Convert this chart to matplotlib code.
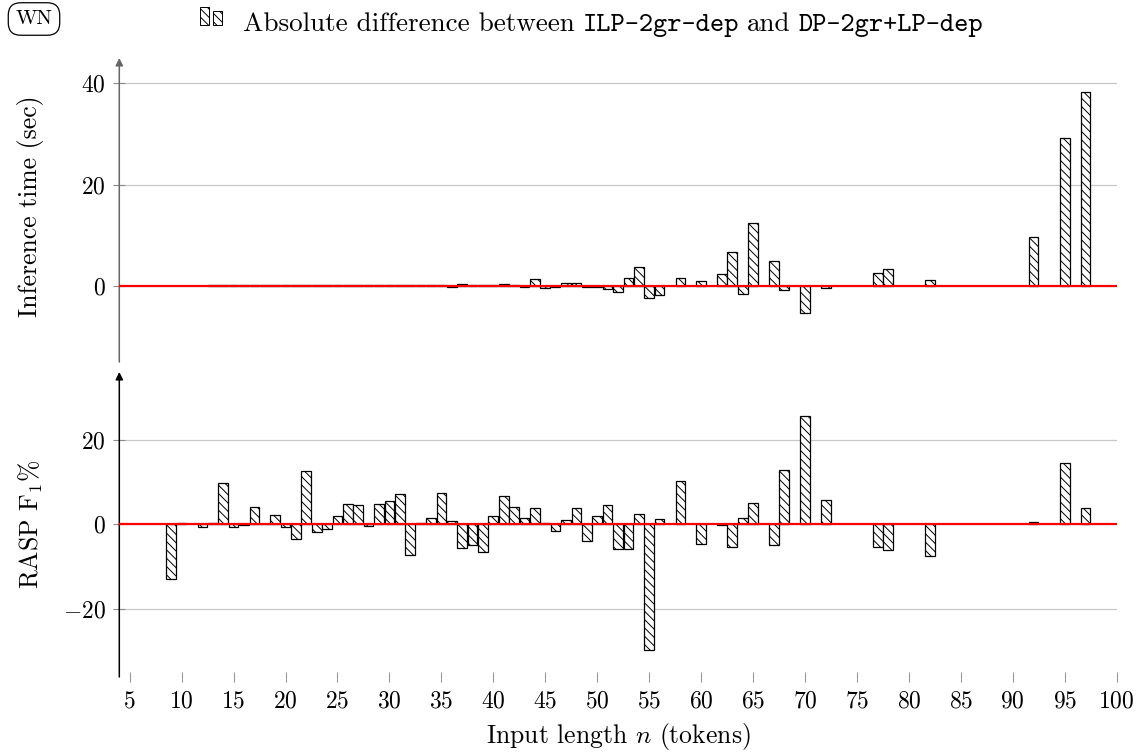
import matplotlib
matplotlib.use('Agg')
import matplotlib.pyplot as plt
from matplotlib.patches import Rectangle

plt.rcParams['font.family'] = ['cmr10', 'DejaVu Serif']
plt.rcParams['mathtext.fontset'] = 'cm'
plt.rcParams['axes.formatter.use_mathtext'] = True
plt.rcParams['hatch.linewidth'] = 0.7

# inference time difference (sec) per input length
time_len = list(range(13, 57)) + [58, 60, 62, 63, 64, 65, 67, 68, 70, 72, 77, 78, 82, 92, 95, 97]
time_diff = [0.1] * 23 + [
    -0.2, 0.3, 0.1, 0.1, 0.1, 0.3, 0.1, -0.2, 1.3, -0.4, -0.2, 0.5, 0.5, -0.1, -0.2,
    -0.6, -1.1, 1.5, 3.7, -2.4, -1.8,
    1.5, 1.0, 2.4, 6.7, -1.6, 12.5, 4.9, -0.8, -5.4, -0.3, 2.5, 3.4, 1.2, 9.6, 29.2, 38.2]

# RASP F1 difference (%) per input length
f1_len = [9, 10] + list(range(12, 57)) + [58, 60, 62, 63, 64, 65, 67, 68, 70, 72, 77, 78, 82, 92, 95, 97]
f1_diff = [
    -12.9, 0.3, -0.7, 0.2, 9.8, -0.8, -0.2, 4.1, 0.0, 2.1, -0.8, -3.6, 12.5, -1.8, -1.2,
    2.0, 4.8, 4.4, -0.4, 4.8, 5.5, 7.1, -7.3, 0.3, 1.5, 7.3, 0.7, -5.6, -4.9, -6.6,
    1.9, 6.6, 4.1, 1.5, 3.9, 0.2, -1.6, 1.0, 3.9, -4.1, 1.9, 4.4, -5.8, -5.9, 2.5,
    -29.7, 1.2,
    10.2, -4.6, -0.1, -5.5, 1.5, 4.9, -4.9, 12.9, 25.7, 5.8, -5.5, -6.2, -7.5, 0.5, 14.4, 3.7]

x_ticks = list(range(5, 101, 5))

W, H = 1140, 755
fig = plt.figure(figsize=(W / 100, H / 100), dpi=100)
ax1 = fig.add_axes([119.3 / W, 1 - 362 / H, 997.4 / W, 304 / H])
ax2 = fig.add_axes([119.3 / W, 1 - 677 / H, 997.4 / W, 305 / H])


def style(ax, spine_col):
    for s in ['top', 'right', 'bottom', 'left']:
        ax.spines[s].set_visible(False)
    ax.set_xlim(4, 100)
    ax.yaxis.grid(True, color='#c8c8c8', lw=0.9)
    ax.set_axisbelow(True)
    ax.tick_params(axis='y', direction='inout', length=9, width=0.8, color='0.55',
                   labelcolor='k', labelsize=17, pad=5)
    ax.annotate('', xy=(0, 1), xycoords='axes fraction', xytext=(0, 0),
                textcoords='axes fraction',
                arrowprops=dict(arrowstyle='-|>', color=spine_col, lw=1.1,
                                mutation_scale=11, shrinkA=0, shrinkB=0))
    ax.axhline(0, color='red', lw=1.6, zorder=4)


ax1.bar(time_len, time_diff, width=0.93, color='white', edgecolor='black',
        hatch='\\\\\\\\', lw=0.9, zorder=3)
style(ax1, '0.4')
ax1.set_ylim(-15, 45)
ax1.set_yticks([0, 20, 40])
ax1.set_xticks([])

ax2.bar(f1_len, f1_diff, width=0.93, color='white', edgecolor='black',
        hatch='\\\\\\\\', lw=0.9, zorder=3)
style(ax2, 'black')
ax2.set_ylim(-36.2, 36)
ax2.set_yticks([-20, 0, 20])
ax2.set_xticks(x_ticks)
ax2.tick_params(axis='x', direction='inout', length=7, width=0.8, color='0.6',
                labelcolor='k', labelsize=17, pad=6)

fig.text(31 / W, 1 - 206 / H, 'Inference time (sec)', rotation=90,
         ha='center', va='center', fontsize=18.5)
fig.text(31 / W, 1 - 524 / H, 'RASP F$_1$%', rotation=90,
         ha='center', va='center', fontsize=18.5)
fig.text(618 / W, 1 - 736 / H, 'Input length $n$ (tokens)',
         ha='center', va='center', fontsize=18.5)

# WN box
fig.text(34 / W, 1 - 19 / H, 'WN', ha='center', va='center', fontsize=15,
         bbox=dict(boxstyle='round,pad=0.35,rounding_size=0.6', fc='white',
                   ec='black', lw=0.9))

# legend entry in the title line
for x0, h in [(200, 18), (213, 14)]:
    fig.patches.append(Rectangle((x0 / W, 1 - 25 / H), 9 / W, h / H,
                                 transform=fig.transFigure, fc='white', ec='black',
                                 hatch='\\\\\\\\', lw=0.7))

renderer = fig.canvas.get_renderer()
pieces = [('Absolute difference between', 'cmr10'), ('ILP-2gr-dep', 'cmtt10'),
          ('and', 'cmr10'), ('DP-2gr+LP-dep', 'cmtt10')]
x = 243
for text, fam in pieces:
    t = fig.text(x / W, 1 - 31 / H, text, family=fam, fontsize=19.5,
                 ha='left', va='baseline')
    bb = t.get_window_extent(renderer)
    x = bb.x1 + 8

fig.savefig('out.png', dpi=100)
